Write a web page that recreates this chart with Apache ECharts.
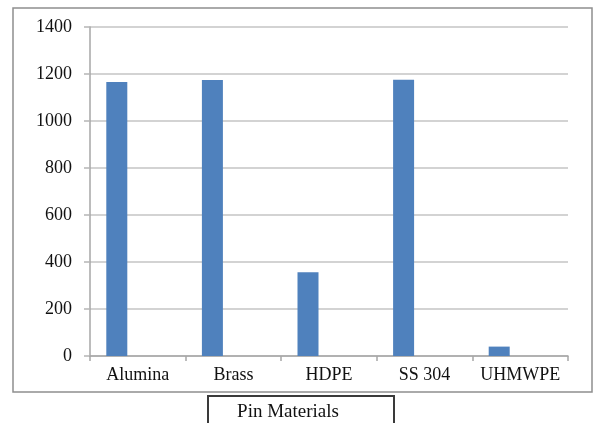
<!DOCTYPE html>
<html>
<head>
<meta charset="utf-8">
<style>
  html, body { margin: 0; padding: 0; background: #ffffff; }
  #chart { width: 595px; height: 423px; }
</style>
<script src="https://cdn.jsdelivr.net/npm/echarts@6/dist/echarts.min.js"></script>
</head>
<body>
<div id="chart"></div>
<script>
// Pin materials and measured values
const categories = ['Alumina', 'Brass', 'HDPE', 'SS 304', 'UHMWPE'];
const pinValues = [1166, 1175, 356, 1176, 40];
// Unused companion series slots of the clustered layout
const emptySlotA = [null, null, null, null, null];
const emptySlotB = [null, null, null, null, null];
const yTicks = { min: 0, max: 1400, step: 200 };
const axisTitle = 'Pin Materials';

const serif = '"Liberation Serif", "DejaVu Serif", serif';
const chart = echarts.init(document.getElementById('chart'), null, { renderer: 'canvas' });

const barSeries = (name, data) => ({
  name: name,
  type: 'bar',
  data: data,
  barWidth: 21,
  barGap: '0%',
  itemStyle: { color: '#4f81bd' },
  silent: true
});

chart.setOption({
  animation: false,
  backgroundColor: '#ffffff',
  grid: { left: 90, right: 27, top: 27, bottom: 67, containLabel: false },
  xAxis: {
    type: 'category',
    data: categories,
    axisLine: { show: true, lineStyle: { color: '#a6a6a6', width: 1.5 } },
    axisTick: { show: true, length: 5, alignWithLabel: false, interval: 0, lineStyle: { color: '#a6a6a6', width: 1.5 } },
    axisLabel: { color: '#111111', fontFamily: serif, fontSize: 18, margin: 10, interval: 0 },
    splitLine: { show: false }
  },
  yAxis: {
    type: 'value',
    min: yTicks.min,
    max: yTicks.max,
    interval: yTicks.step,
    axisLine: { show: true, lineStyle: { color: '#a6a6a6', width: 1.5 } },
    axisTick: { show: true, length: 6, lineStyle: { color: '#b5b5b5', width: 1.5 } },
    axisLabel: {
      color: '#111111', fontFamily: serif, fontSize: 18, margin: 18,
      formatter: (v) => String(v)
    },
    splitLine: { show: true, lineStyle: { color: '#c4c4c4', width: 1.5 } }
  },
  series: [
    barSeries('Pin', pinValues),
    barSeries('slotA', emptySlotA),
    barSeries('slotB', emptySlotB)
  ],
  graphic: [
    {
      type: 'rect',
      z: -10,
      shape: { x: 13, y: 8, width: 579, height: 384 },
      style: { fill: 'none', stroke: '#8f8f8f', lineWidth: 1.5 }
    },
    {
      type: 'rect',
      z: 10,
      shape: { x: 208, y: 396, width: 186, height: 40 },
      style: { fill: '#ffffff', stroke: '#3a3a3a', lineWidth: 2 }
    },
    {
      type: 'text',
      z: 11,
      x: 288,
      y: 412,
      style: {
        text: axisTitle,
        fill: '#111111',
        font: '19px ' + serif,
        textAlign: 'center',
        textVerticalAlign: 'middle'
      }
    }
  ]
});
</script>
</body>
</html>
